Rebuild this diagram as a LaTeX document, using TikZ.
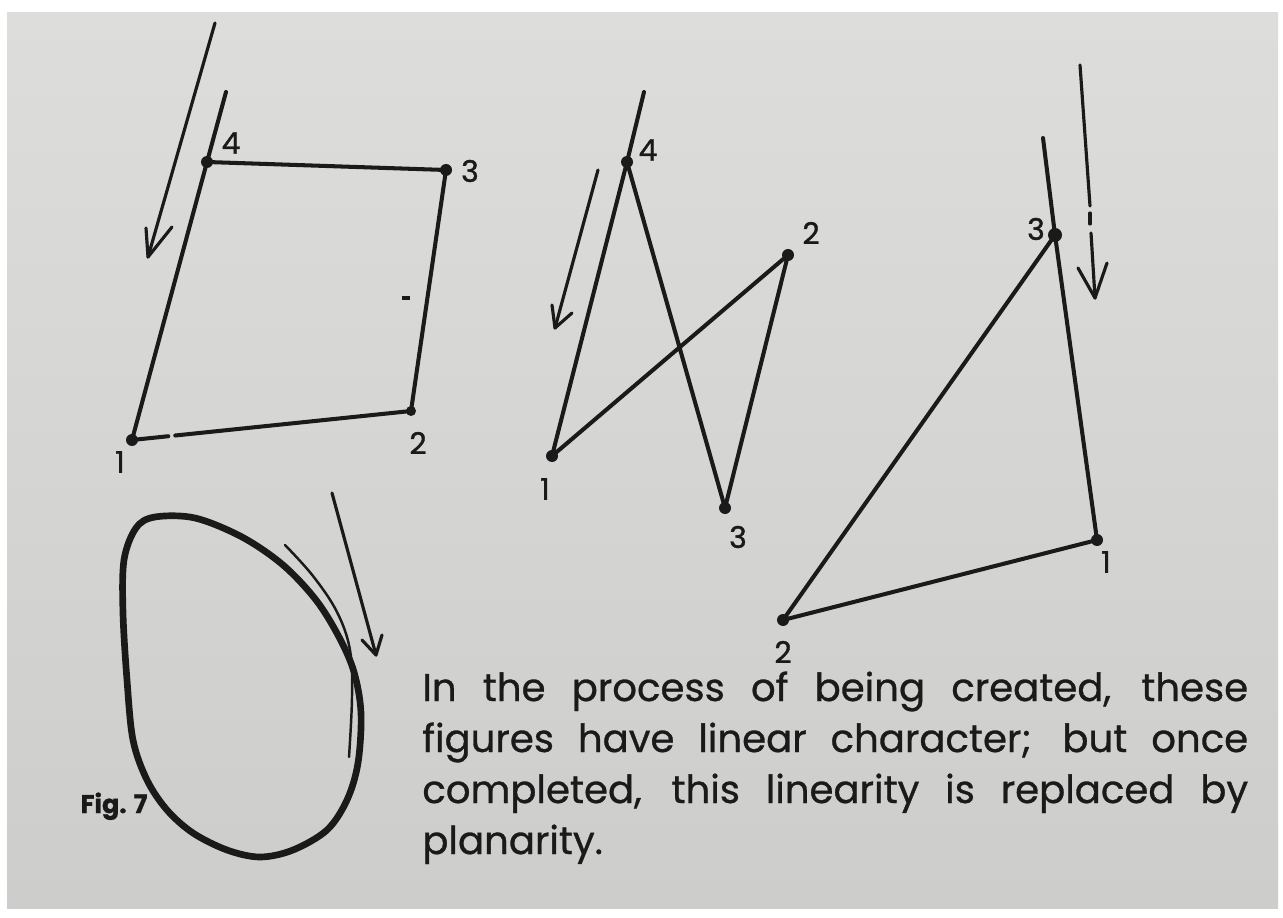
\documentclass[tikz,border=0pt]{standalone}
\usepackage{fontspec}
\setmainfont{Poppins}
\newfontfamily\bodyfont{Poppins}[FakeBold=0.8]
\newfontfamily\labfont{Poppins}[FakeBold=1.2]
\usetikzlibrary{calc}
\definecolor{ink}{HTML}{1A1A1A}
\definecolor{paperA}{HTML}{DDDDDB}
\definecolor{paperB}{HTML}{CDCDCB}
\begin{document}
\begin{tikzpicture}[x=0.02cm,y=-0.02cm,
  edge/.style={draw=ink,line width=2.3pt,line cap=round,line join=round},
  arrowline/.style={draw=ink,line width=1.8pt,line cap=round,line join=round},
  thinline/.style={draw=ink,line width=1.4pt,line cap=round,line join=round},
  dot/.style={circle,fill=ink,inner sep=0pt,minimum size=0.24cm},
  lab/.style={text=ink,inner sep=0pt,font=\labfont\fontsize{17}{17}\selectfont},
  body/.style={text=ink,inner sep=0pt,anchor=base west,font=\bodyfont\fontsize{22}{29}\selectfont}]
\useasboundingbox (0,0) rectangle (1283,918);
\fill[white] (0,0) rectangle (1283,918);
\shade[top color=paperA,bottom color=paperB] (7,13) rectangle (1278,908);

% ---------- Figure 1: quadrilateral ----------
\node[dot] (a4) at (207,162) {};
\node[dot] (a3) at (446,170) {};
\node[dot,minimum size=0.2cm] (a2) at (411,411) {};
\node[dot] (a1) at (132,440) {};
\coordinate (a4x) at (226,92);
\draw[edge] (a4x) -- (a4.center) -- (a1.center);
\draw[edge] (a4.center) -- (a3.center) -- (a2.center);
\draw[edge] (a2.center) -- ($(a2.center)!0.845!(a1.center)$);
\draw[edge] ($(a2.center)!0.87!(a1.center)$) -- (a1.center);
\coordinate (m1) at (402,298);
\coordinate (m2) at (410,298);
\draw[ink,line width=2.8pt] (m1) -- (m2);
\coordinate (p1s) at (215,23);
\coordinate (p1t) at (148,257);
\coordinate (p1l) at (146,228);
\coordinate (p1r) at (172,227);
\draw[arrowline] (p1s) -- (p1t);
\draw[arrowline] (p1l) -- (p1t) -- (p1r);
\node[lab] (la4) at (231,143) {4};
\node[lab] (la3) at (470,171) {3};
\node[lab] (la2) at (418,443) {2};
\node[lab] (la1) at (120,462) {1};

% ---------- Figure 2: zigzag ----------
\node[dot] (b4) at (627,162) {};
\node[dot] (b2) at (788,255) {};
\node[dot] (b1) at (552,456) {};
\node[dot] (b3) at (725,508) {};
\coordinate (b4x) at (644,92);
\draw[edge] (b4x) -- (b4.center) -- (b1.center) -- (b2.center) -- (b3.center) -- (b4.center);
\coordinate (p2s) at (598,170);
\coordinate (p2t) at (555,328);
\coordinate (p2l) at (552,305);
\coordinate (p2r) at (572,313);
\draw[arrowline] (p2s) -- (p2t);
\draw[arrowline] (p2l) -- (p2t) -- (p2r);
\node[lab] (lb4) at (648,150) {4};
\node[lab] (lb2) at (811,233) {2};
\node[lab] (lb1) at (545,489) {1};
\node[lab] (lb3) at (738,537) {3};

% ---------- Figure 3: triangle ----------
\node[dot,minimum size=0.28cm] (c3) at (1055,235) {};
\node[dot] (c1) at (1097,540) {};
\node[dot] (c2) at (783,620) {};
\coordinate (c3x) at (1043,138);
\draw[edge] (c3x) -- (c3.center) -- (c1.center) -- (c2.center) -- (c3.center);
\coordinate (p3s) at (1080,65);
\coordinate (p3a) at (1090,206);
\coordinate (p3b) at (1090,213);
\coordinate (p3c) at (1090,224);
\coordinate (p3d) at (1091,233);
\coordinate (p3t) at (1095,298);
\coordinate (p3l) at (1078,268);
\coordinate (p3r) at (1107,263);
\draw[arrowline] (p3s) -- (p3a);
\draw[arrowline] (p3b) -- (p3c);
\draw[arrowline] (p3d) -- (p3t);
\draw[arrowline] (p3l) -- (p3t) -- (p3r);
\node[lab] (lc3) at (1036,229) {3};
\node[lab] (lc1) at (1106,562) {1};
\node[lab] (lc2) at (783,652) {2};

% ---------- Figure 4: oval ----------
\draw[ink,line width=3.8pt,line join=round] plot[smooth cycle,tension=0.55] coordinates {
  (155,517) (195,518) (242,537) (283,565) (316,600) (339,637) (354,672)
  (361,713) (358,763) (347,800) (327,830) (293,850) (260,857) (227,850)
  (193,833) (167,810) (147,780) (133,740) (127,680) (123,613) (124,560) (136,528)};
\draw[thinline] plot[smooth,tension=0.6] coordinates {
  (285,545) (313,576) (337,612) (350,650) (352,697) (349,757)};
\coordinate (p4s) at (332,493);
\coordinate (p4t) at (376,655);
\coordinate (p4l) at (362,640);
\coordinate (p4r) at (382,635);
\draw[arrowline] (p4s) -- (p4t);
\draw[arrowline] (p4l) -- (p4t) -- (p4r);
\node[text=ink,inner sep=0pt,anchor=base,font=\labfont\bfseries\fontsize{14.5}{14.5}\selectfont] (fig) at (114,813) {Fig. 7};

% ---------- Caption ----------
\node[body] (t1) at (422,701) {\hbox to 16.52cm{In the process of being created, these}};
\node[body] (t2) at (422,752) {\hbox to 16.52cm{figures have linear character; but once}};
\node[body] (t3) at (422,803) {\hbox to 16.52cm{completed, this linearity is replaced by}};
\node[body] (t4) at (422,854) {planarity.};
\end{tikzpicture}
\end{document}
